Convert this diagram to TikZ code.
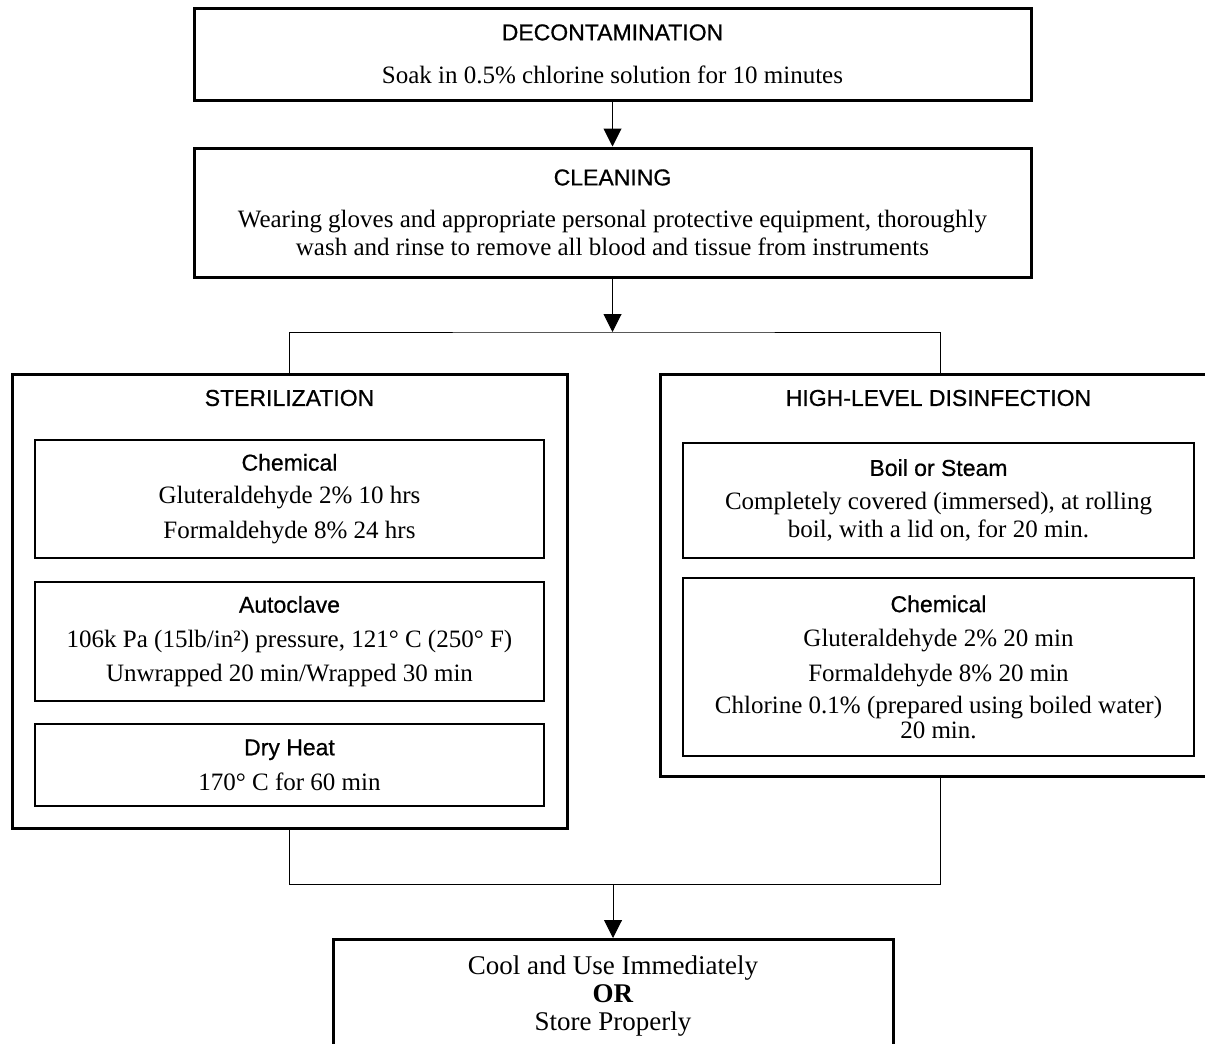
\documentclass[tikz,border=0pt]{standalone}
\usepackage{fontspec}
\setmainfont{Liberation Serif}
\setsansfont{Liberation Sans}
\newfontfamily\hdfont{Liberation Sans}[FakeBold=0.7]
\usetikzlibrary{arrows.meta}
\newcommand{\hd}[1]{{\hdfont\fontsize{11.5}{14}\selectfont #1}}

\begin{document}
\begin{tikzpicture}[x=0.5pt,y=-0.5pt,
    stage node/.style={draw,line width=1.5pt,align=center,font=\fontsize{12.5}{15}\selectfont},
    group node/.style={draw,line width=1.5pt},
    method node/.style={draw,line width=0.75pt,align=center,font=\fontsize{12.5}{15}\selectfont},
    link/.style={line width=0.5pt},
    flow/.style={line width=0.5pt,-{Triangle[length=9pt,width=9pt]}}]
    \useasboundingbox (0,0) rectangle (1205,1044);
    \clip (0,0) rectangle (1205,1044);
    \fill [white] (0,0) rectangle (1205,1044);
    % top stages
    \node [stage node,minimum width=418.5pt,minimum height=46pt] (decon) at (612.5,54)
        {\hd{DECONTAMINATION}\\[6.5pt] Soak in 0.5\% chlorine solution for 10 minutes};
    \node [stage node,minimum width=418.5pt,minimum height=64.5pt] (clean) at (612.5,212.5)
        {\hd{CLEANING}\\[6pt] Wearing gloves and appropriate personal protective equipment, thoroughly\\[-1pt]
         wash and rinse to remove all blood and tissue from instruments};
    % the two groups
    \node [group node,minimum width=277.5pt,minimum height=227pt] (steril) at (289.5,601) {};
    \node [group node,minimum width=280pt,minimum height=201pt] (hld) at (940,575) {};
    \node (sterTitle) at (289.5,398) {\hd{STERILIZATION}};
    \node (hldTitle) at (938.5,398) {\hd{HIGH-LEVEL DISINFECTION}};
    \node [method node,minimum width=254.5pt,minimum height=59pt] (sChem) at (289.5,499)
        {\hd{Chemical}\\[1.5pt] Gluteraldehyde 2\% 10 hrs\\[2.5pt] Formaldehyde 8\% 24 hrs};
    \node [method node,minimum width=254.5pt,minimum height=59.5pt] (sAuto) at (289.5,641.5)
        {\hd{Autoclave}\\[2.5pt] 106k Pa (15lb/in²) pressure, 121° C (250° F)\\[2pt] Unwrapped 20 min/Wrapped 30 min};
    \node [method node,minimum width=254.5pt,minimum height=41pt] (sDry) at (289.5,765)
        {\hd{Dry Heat}\\[2.5pt] 170° C for 60 min};
    \node [method node,minimum width=255.5pt,minimum height=57.5pt] (hBoil) at (938.5,500.5)
        {\hd{Boil or Steam}\\[2pt] Completely covered (immersed), at rolling\\[-1pt] boil, with a lid on, for 20 min.};
    \node [method node,minimum width=255.5pt,minimum height=89pt] (hChem) at (938.5,667)
        {\hd{Chemical}\\[2pt] Gluteraldehyde 2\% 20 min\\[2.5pt] Formaldehyde 8\% 20 min\\[1pt]
         Chlorine 0.1\% (prepared using boiled water)\\[-2.5pt] 20 min.};
    % last stage
    \node [stage node,minimum width=280pt,minimum height=56.5pt,font=\fontsize{13.5}{14}\selectfont] (final) at (613,996)
        {Cool and Use Immediately\\ \textbf{OR}\\ Store Properly};
    \coordinate (split) at (612.5,332);
    \coordinate (join) at (613,884);
    \path [draw,flow] (decon) edge (clean);
    \draw [flow] (clean) -- (split);
    \draw [link] (steril.north) |- (split) -| (hld.north);
    \draw [link] (steril.south) |- (join) -| (hld.south);
    \draw [flow] (join) -- (final);
\end{tikzpicture}
\end{document}
